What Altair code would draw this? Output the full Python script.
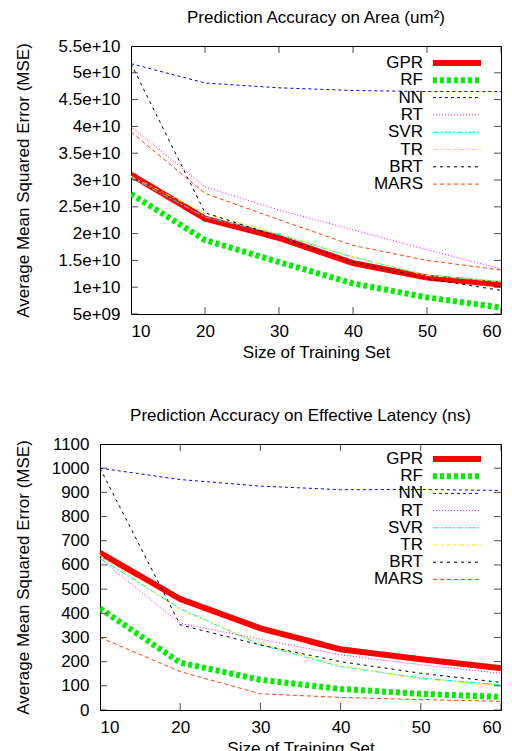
import altair as alt
import pandas as pd

sizes = [10, 20, 30, 40, 50, 60]
methods = ["GPR", "RF", "NN", "RT", "SVR", "TR", "BRT", "MARS"]

# Prediction accuracy on area (MSE)
area_gpr = [3.10e10, 2.28e10, 1.92e10, 1.45e10, 1.18e10, 1.05e10]
area_rf = [2.74e10, 1.88e10, 1.47e10, 1.07e10, 8.1e9, 6.2e9]
area_nn = [5.17e10, 4.81e10, 4.72e10, 4.67e10, 4.65e10, 4.65e10]
area_rt = [4.00e10, 2.87e10, 2.44e10, 2.07e10, 1.70e10, 1.34e10]
area_svr = [3.05e10, 2.31e10, 1.98e10, 1.56e10, 1.22e10, 1.11e10]
area_tr = [3.07e10, 2.38e10, 2.00e10, 1.57e10, 1.22e10, 1.10e10]
area_brt = [5.17e10, 2.39e10, 1.94e10, 1.47e10, 1.16e10, 9.4e9]
area_mars = [3.90e10, 2.75e10, 2.26e10, 1.78e10, 1.50e10, 1.32e10]

# Prediction accuracy on effective latency (MSE)
lat_gpr = [650, 459, 338, 251, 210, 173]
lat_rf = [420, 196, 125, 87, 67, 54]
lat_nn = [1000, 953, 926, 911, 912, 908]
lat_rt = [626, 358, 293, 228, 187, 152]
lat_svr = [626, 420, 269, 180, 132, 104]
lat_tr = [640, 413, 276, 183, 128, 100]
lat_brt = [1000, 352, 269, 200, 152, 114]
lat_mars = [300, 159, 67, 52, 43, 36]

area_ticks = [5e9 * i for i in range(1, 12)]
lat_ticks = [100 * i for i in range(0, 12)]

colors = ["#ff0000", "#00ee00", "#0000ff", "#ff00ff", "#00eeee", "#eeee00", "#000000", "#ff4000"]
dashes = [[1, 0], [4, 3], [3, 3], [1, 2], [6, 2, 2, 2], [5, 3, 2, 3], [3, 4], [4, 3]]
widths = [6, 6, 1, 1, 1, 1, 1, 1]

FONT = "Liberation Sans"


def long_df(series):
    rows = []
    for m, vals in zip(methods, series):
        for s, v in zip(sizes, vals):
            rows.append({"method": m, "size": s, "value": v})
    return pd.DataFrame(rows)


def panel(series, title, ydomain, yticks, label_expr, width, height, title_pad, key):
    df = long_df(series)
    xscale = alt.Scale(domain=[10, 60], nice=False)
    yscale = alt.Scale(domain=ydomain, nice=False, zero=False)
    x_enc = alt.X("size:Q", scale=xscale,
                  axis=alt.Axis(values=sizes, tickCount=20, title="Size of Training Set", format="d",
                                labelOverlap=False))
    y_enc = alt.Y("value:Q", scale=yscale,
                  axis=alt.Axis(values=yticks, tickCount=30, title="Average Mean Squared Error (MSE)",
                                labelExpr=label_expr, titlePadding=title_pad,
                                labelOverlap=False, labelSeparation=0))
    c_enc = alt.Color("method:N", scale=alt.Scale(domain=methods, range=colors), legend=None)
    d_enc = alt.StrokeDash("method:N", scale=alt.Scale(domain=methods, range=dashes), legend=None)
    w_enc = alt.StrokeWidth("method:N", scale=alt.Scale(type="ordinal", domain=methods, range=widths),
                            legend=None)
    lines = alt.Chart(df).mark_line(clip=True).encode(
        x=x_enc, y=y_enc, color=c_enc, strokeDash=d_enc, strokeWidth=w_enc,
    )
    ydf = pd.DataFrame({"value": yticks})
    xdf = pd.DataFrame({"size": sizes})
    tick = dict(size=14, thickness=1, color="black", clip=True)
    left = alt.Chart(ydf).mark_tick(orient="horizontal", **tick).encode(y=y_enc, x=alt.datum(10))
    right = alt.Chart(ydf).mark_tick(orient="horizontal", **tick).encode(y=y_enc, x=alt.datum(60))
    bottom = alt.Chart(xdf).mark_tick(orient="vertical", **tick).encode(x=x_enc, y=alt.datum(ydomain[0]))
    top = alt.Chart(xdf).mark_tick(orient="vertical", **tick).encode(x=x_enc, y=alt.datum(ydomain[1]))

    # key drawn inside the plot, gnuplot style (label left of sample line)
    lo, hi = ydomain
    key_df = pd.DataFrame({
        "method": methods,
        "value": [hi - (key["first"] + key["row"] * i) * (hi - lo) / height for i in range(len(methods))],
    })
    key_text = alt.Chart(key_df).mark_text(
        align="right", baseline="middle", font=FONT, fontSize=17, color="black"
    ).encode(y=y_enc, x=alt.value(key["text_x"]), text="method:N")
    key_line = alt.Chart(key_df).mark_rule().encode(
        y=y_enc, x=alt.value(key["x1"]), x2=alt.value(key["x2"]),
        color=c_enc, strokeDash=d_enc, strokeWidth=w_enc,
    )
    return alt.layer(lines, left, right, bottom, top, key_text, key_line).properties(
        width=width, height=height,
        title=alt.Title(title, font=FONT, fontSize=17, fontWeight="normal", offset=10, color="black"),
    )


def spacer():
    return alt.Chart(pd.DataFrame({"a": [0]})).mark_point(opacity=0, size=0).encode(
        x=alt.value(0), y=alt.value(0)
    ).properties(width=1, height=1, view=alt.ViewBackground(stroke="transparent"))


area_expr = "replace(format(datum.value, '~e'), 'e+9', 'e+09')"
top_chart = panel([area_gpr, area_rf, area_nn, area_rt, area_svr, area_tr, area_brt, area_mars],
                  "Prediction Accuracy on Area (um²)", [5e9, 5.5e10], area_ticks, area_expr,
                  370, 268, 26, {"first": 17, "row": 17.3, "text_x": 292, "x1": 302, "x2": 350})
bottom_chart = panel([lat_gpr, lat_rf, lat_nn, lat_rt, lat_svr, lat_tr, lat_brt, lat_mars],
                     "Prediction Accuracy on Effective Latency (ns)", [0, 1100], lat_ticks,
                     "format(datum.value, 'd')", 401, 266, 19,
                     {"first": 15, "row": 17.2, "text_x": 323, "x1": 333, "x2": 381})

chart = alt.vconcat(
    alt.hconcat(spacer(), top_chart, spacing=0),
    alt.hconcat(spacer(), bottom_chart, spacing=0),
    spacing=45,
).properties(
    padding={"left": 2, "top": 0, "right": 0, "bottom": 0}
).configure_view(stroke="black", strokeWidth=1).configure_axis(
    domain=False, grid=False, ticks=False, tickSize=0, labelOverlap=False,
    labelFont=FONT, labelFontSize=17, labelColor="black", labelPadding=11,
    titleFont=FONT, titleFontSize=17, titleFontWeight="normal", titleColor="black",
).configure_axisX(titlePadding=5, labelPadding=9)

chart.save("out.html", embed_options={"renderer": "svg", "actions": False})
